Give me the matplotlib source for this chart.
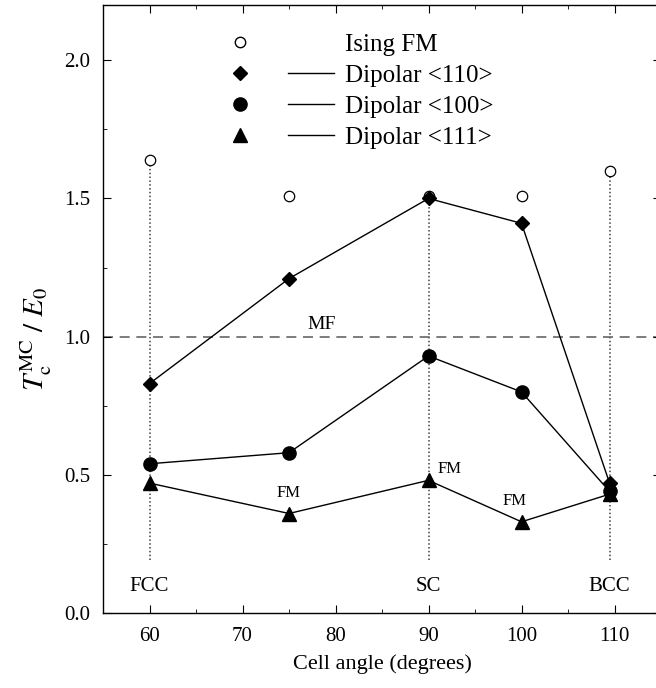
import matplotlib
matplotlib.use('Agg')
import matplotlib.pyplot as plt
from matplotlib.lines import Line2D
from matplotlib.legend_handler import HandlerTuple
from matplotlib.ticker import MultipleLocator

plt.rcParams['font.family'] = ['Liberation Serif', 'DejaVu Serif']
plt.rcParams['mathtext.fontset'] = 'stix'

# cell angles (degrees) : FCC, -, SC, -, BCC
angles = [60, 75, 90, 100, 109.47]
ising_fm = [1.64, 1.51, 1.51, 1.51, 1.60]
dip_110 = [0.83, 1.21, 1.50, 1.41, 0.47]
dip_100 = [0.54, 0.58, 0.93, 0.80, 0.44]
dip_111 = [0.47, 0.36, 0.48, 0.33, 0.43]

lattice_angles = [60, 90, 109.47]
lattice_tops = [1.64, 1.51, 1.60]
lattice_names = ['FCC', 'SC', 'BCC']
mf_value = 1.0

fm_pos = [(75, 0.435), (92.3, 0.52), (99.2, 0.405)]

fig = plt.figure(figsize=(6.56, 6.88), dpi=100)
ax = fig.add_axes([103/656, 75/688, 558/656, 608/688])

# lattice guides
for a, top, name in zip(lattice_angles, lattice_tops, lattice_names):
    ax.plot([a, a], [0.19, top], ls=(0, (1, 1.5)), color='0.25', lw=1.1, zorder=1)
    ax.text(a, 0.095, name, ha='center', va='center', fontsize=15)

ax.axhline(mf_value, ls=(0, (6, 4)), color='0.4', lw=1.2, zorder=1)
ax.text(78.5, 1.045, 'MF', ha='center', va='center', fontsize=14)
for x, y in fm_pos:
    ax.text(x, y, 'FM', ha='center', va='center', fontsize=12)

ax.plot(angles, ising_fm, 'o', mfc='white', mec='black', ms=7.5, mew=0.9, zorder=3)
ax.plot(angles, dip_110, '-D', color='black', ms=7.2, lw=1.0, zorder=4)
ax.plot(angles, dip_100, '-o', color='black', ms=9.5, lw=1.0, zorder=4)
ax.plot(angles, dip_111, '-^', color='black', ms=9.5, lw=1.0, zorder=4)

ax.set_xlim(55, 115)
ax.set_ylim(0, 2.2)
ax.xaxis.set_major_locator(MultipleLocator(10))
ax.xaxis.set_minor_locator(MultipleLocator(5))
ax.yaxis.set_major_locator(MultipleLocator(0.5))
ax.yaxis.set_minor_locator(MultipleLocator(0.25))
ax.yaxis.set_major_formatter(plt.FormatStrFormatter('%.1f'))
ax.tick_params(which='both', direction='in', top=True, right=True, labelsize=15)
ax.tick_params(axis='x', pad=10)
ax.tick_params(axis='y', pad=9)
ax.tick_params(which='major', length=6)
ax.tick_params(which='minor', length=3)
for s in ax.spines.values():
    s.set_linewidth(1.0)
ax.set_xlabel('Cell angle (degrees)', fontsize=16, labelpad=6)
ax.set_ylabel(r'$T_{\rm c}^{\rm MC}\ /\ E_0$', fontsize=21)
ax.yaxis.set_label_coords(-0.087, 0.45)

# legend: marker then line
blank = Line2D([], [], ls='none')
h_ising = (Line2D([], [], marker='o', ls='none', mfc='white', mec='black', ms=7.5), blank)
h110 = (Line2D([], [], marker='D', ls='none', color='black', ms=7.2), Line2D([], [], color='black', lw=1.0))
h100 = (Line2D([], [], marker='o', ls='none', color='black', ms=9.5), Line2D([], [], color='black', lw=1.0))
h111 = (Line2D([], [], marker='^', ls='none', color='black', ms=9.5), Line2D([], [], color='black', lw=1.0))
ax.legend([h_ising, h110, h100, h111],
          ['Ising FM', 'Dipolar <110>', 'Dipolar <100>', 'Dipolar <111>'],
          handler_map={tuple: HandlerTuple(ndivide=None, pad=1.0)},
          loc='upper left', bbox_to_anchor=(0.163, 0.99), frameon=False,
          fontsize=18, handlelength=4.7, handletextpad=0.44, labelspacing=0.34)

fig.savefig('out.png', dpi=100)
